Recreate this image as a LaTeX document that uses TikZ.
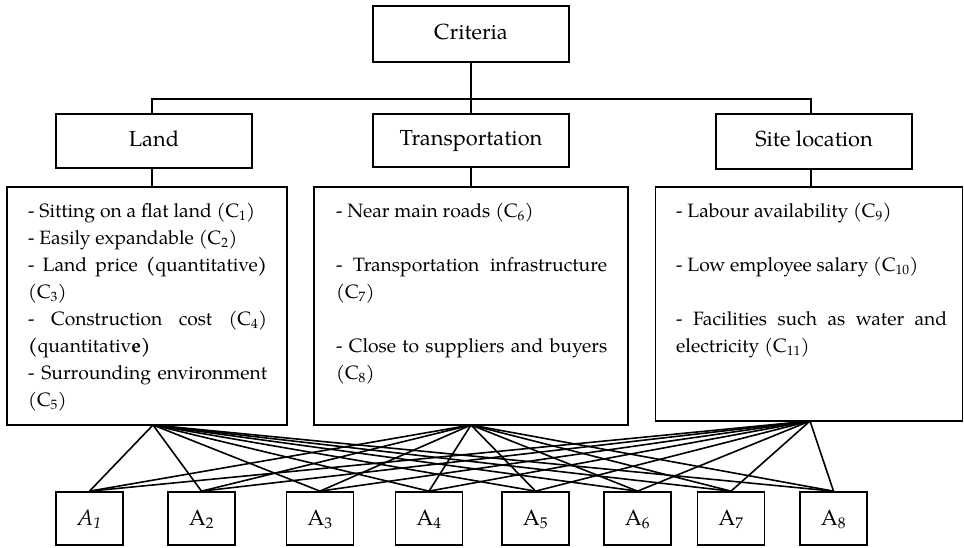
\documentclass[tikz,border=0pt]{standalone}
\usepackage{fontspec}
\setmainfont{texgyrepagella}[Extension=.otf, UprightFont=*-regular, BoldFont=*-bold, ItalicFont=*-italic, BoldItalicFont=*-bolditalic]
\tikzset{
  box/.style={draw, line width=1.7pt, minimum width=196pt, inner sep=0pt, text height=15pt, text depth=5pt, font=\fontsize{21.8}{26}\selectfont},
  dbox/.style={draw, line width=1.7pt, inner sep=0pt},
  dtext/.style={anchor=base west, inner sep=0pt, align=justify, font=\fontsize{19.3}{27}\selectfont},
  abox/.style={draw, line width=1.7pt, minimum width=67pt, minimum height=53pt, inner sep=0pt, text height=16pt, text depth=3pt, font=\fontsize{22}{26}\selectfont},
  conn/.style={line width=1.6pt},
}
\begin{document}
\begin{tikzpicture}[x=1pt, y=-1pt]
\path[use as bounding box, fill=white] (0,0) rectangle (964,547);

% top level
\node[box, minimum height=56pt] (crit) at (471,34) {Criteria};
\node[box, minimum height=54pt] (land) at (154,141) {Land};
\node[box, minimum height=53pt] (trans) at (471,140.5) {Transportation};
\node[box, minimum height=55pt] (site) at (814,141.5) {Site location};

\coordinate (bl) at (152,99);
\coordinate (bm) at (471,99);
\coordinate (br) at (811,99);
\draw[conn] (crit.south) -- (bm) -- (trans.north);
\draw[conn] (land.north -| bl) -- (bl) -- (br) -- (site.north -| br);

% detail boxes
\node[dbox, minimum width=280pt, minimum height=238pt] (landD) at (147,306) {};
\node[dbox, minimum width=314pt, minimum height=238pt] (transD) at (471,306) {};
\node[dbox, minimum width=307pt, minimum height=234pt] (siteD) at (809,304) {};

\draw[conn] (land.south -| bl) -- (landD.north -| bl);
\draw[conn] (trans.south) -- (transD.north);
\draw[conn] (site.south -| br) -- (siteD.north -| br);

\node[dtext, text width=239pt] (landT) at (28,217) {%
- Sitting on a flat land (C\textsubscript{1})\par
- Easily expandable (C\textsubscript{2})\par
- Land price \textbf{(}quantitative\textbf{)}\linebreak (C\textsubscript{3})\par
- Construction cost (C\textsubscript{4})\linebreak \textbf{(}quantitativ\textbf{e)}\par
- Surrounding environment\linebreak (C\textsubscript{5})};

\node[dtext, text width=271pt] (transT) at (336,217) {%
- Near main roads (C\textsubscript{6})\par
\mbox{}\par
- Transportation infrastructure\linebreak (C\textsubscript{7})\par
\mbox{}\par
- Close to suppliers and buyers\linebreak (C\textsubscript{8})};

\node[dtext, text width=271pt] (siteT) at (676,217) {%
- Labour availability (C\textsubscript{9})\par
\mbox{}\par
- Low employee salary (C\textsubscript{10})\par
\mbox{}\par
- Facilities such as water and\linebreak electricity (C\textsubscript{11})};

% alternatives
\node[abox] (a1) at (89.5,518.5) {\textit{A\textsubscript{1}}};
\node[abox] (a2) at (201.5,518.5) {A\textsubscript{2}};
\node[abox] (a3) at (320,518.5) {A\textsubscript{3}};
\node[abox] (a4) at (429,518.5) {A\textsubscript{4}};
\node[abox] (a5) at (535.5,518.5) {A\textsubscript{5}};
\node[abox] (a6) at (637.5,518.5) {A\textsubscript{6}};
\node[abox] (a7) at (731,518.5) {A\textsubscript{7}};
\node[abox] (a8) at (833.5,518.5) {A\textsubscript{8}};

\coordinate (pL) at (153,425);
\coordinate (pT) at (471,425);
\coordinate (pS) at (810,421);

\foreach \p in {pL,pT,pS}
  \foreach \a in {a1,a2,a3,a4,a5,a6,a7,a8}
    \draw[conn] (\p) -- (\a.north);
\end{tikzpicture}
\end{document}
